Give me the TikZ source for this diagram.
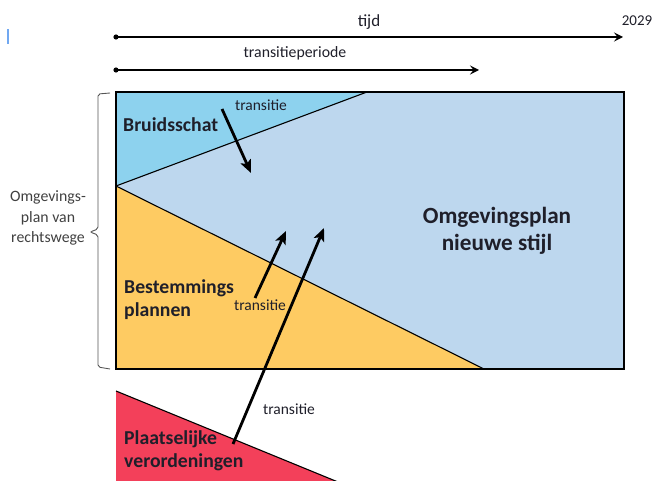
\documentclass[tikz,border=0pt]{standalone}
\usepackage{fontspec}
\setmainfont{Carlito}
\usetikzlibrary{arrows.meta}
\definecolor{newblue}{HTML}{BDD7EE}
\definecolor{skyblue}{HTML}{8DD2EE}
\definecolor{planyellow}{HTML}{FECB62}
\definecolor{pvred}{HTML}{F3405A}
\definecolor{txtdark}{HTML}{1F1F2A}
\definecolor{bracegray}{HTML}{555555}
\tikzset{
  timeline/.style={line width=1.8pt,-{Stealth[length=9pt,width=9pt,inset=3.5pt]}},
  transarrow/.style={line width=2.8pt,-{Stealth[length=13pt,width=11pt,inset=3pt]}},
  smalltxt/.style={font=\fontsize{15.5}{18}\selectfont,text=txtdark,inner sep=0pt},
  bigtxt/.style={font=\fontsize{19.7}{23}\selectfont\bfseries,text=txtdark,inner sep=0pt,align=left,anchor=west},
  divider/.style={line width=1.1pt},
}
\begin{document}
\begin{tikzpicture}[x=1pt,y=-1pt]
\useasboundingbox (0,0) rectangle (653,481);
% small blue mark at left
\draw[line width=2pt,color=skyblue!80!blue] (8,29) -- (8,44);
% time axis
\coordinate (t0) at (116,37);
\coordinate (t1) at (623,37);
\draw[timeline] (t0) -- (t1);
\fill (t0) circle (2.6);
\node[smalltxt,font=\fontsize{17}{19}\selectfont] (tijd) at (369,22) {tijd};
\node[smalltxt,font=\fontsize{15}{17}\selectfont] (jaar) at (637,21) {2029};
\coordinate (p0) at (116,70);
\coordinate (p1) at (479,70);
\draw[timeline] (p0) -- (p1);
\fill (p0) circle (2.6);
\node[smalltxt,font=\fontsize{15.8}{18}\selectfont] (tp) at (295,53) {transitieperiode};
% main areas
\coordinate (A) at (116,92);
\coordinate (B) at (624,92);
\coordinate (C) at (624,369);
\coordinate (D) at (116,369);
\coordinate (M) at (116,186);
\coordinate (Bt) at (367,92);
\coordinate (Yb) at (484,369);
\fill[newblue] (A) rectangle (C);
\fill[skyblue] (A) -- (Bt) -- (M) -- cycle;
\fill[planyellow] (M) -- (Yb) -- (D) -- cycle;
\draw[divider] (M) -- (Bt);
\draw[divider] (M) -- (Yb);
\draw[line width=2.8pt] (A) rectangle (C);
% red triangle
\coordinate (R0) at (116,391);
\coordinate (R1) at (338,482);
\coordinate (R2) at (116,482);
\fill[pvred] (R0) -- (R1) -- (R2) -- cycle;
\draw[divider] (R0) -- (R1);
% brace
\draw[bracegray,line width=0.9pt,rounded corners=2pt] (110,93) -- (98,94) -- (98,229) -- (90,232) -- (98,235) -- (98,367) -- (110,369);
\node[smalltxt,font=\fontsize{15.8}{20.5}\selectfont,align=center,text=black!75] (rw) at (48,218) {Omgevings-\\plan van\\rechtswege};
% labels
\node[bigtxt] (bs) at (123,125) {Bruidsschat};
\node[bigtxt] (bp) at (124,300) {Bestemmings\\plannen};
\node[bigtxt] (pv) at (124,451) {Plaatselijke\\verordeningen};
\node[bigtxt,font=\fontsize{23.2}{27}\selectfont\bfseries,align=center,anchor=center] (ns) at (497,231) {Omgevingsplan\\nieuwe stijl};
% transition arrows
\coordinate (a1s) at (222,109);
\coordinate (a1e) at (251,173);
\draw[transarrow] (a1s) -- (a1e);
\node[smalltxt] (tr1) at (261,105) {transitie};
\coordinate (a2s) at (255,298);
\coordinate (a2e) at (286,231);
\draw[transarrow] (a2s) -- (a2e);
\node[smalltxt] (tr2) at (260,305) {transitie};
\coordinate (a3s) at (233,444);
\coordinate (a3e) at (324,228);
\draw[transarrow] (a3s) -- (a3e);
\node[smalltxt] (tr3) at (289,409) {transitie};
\end{tikzpicture}
\end{document}
